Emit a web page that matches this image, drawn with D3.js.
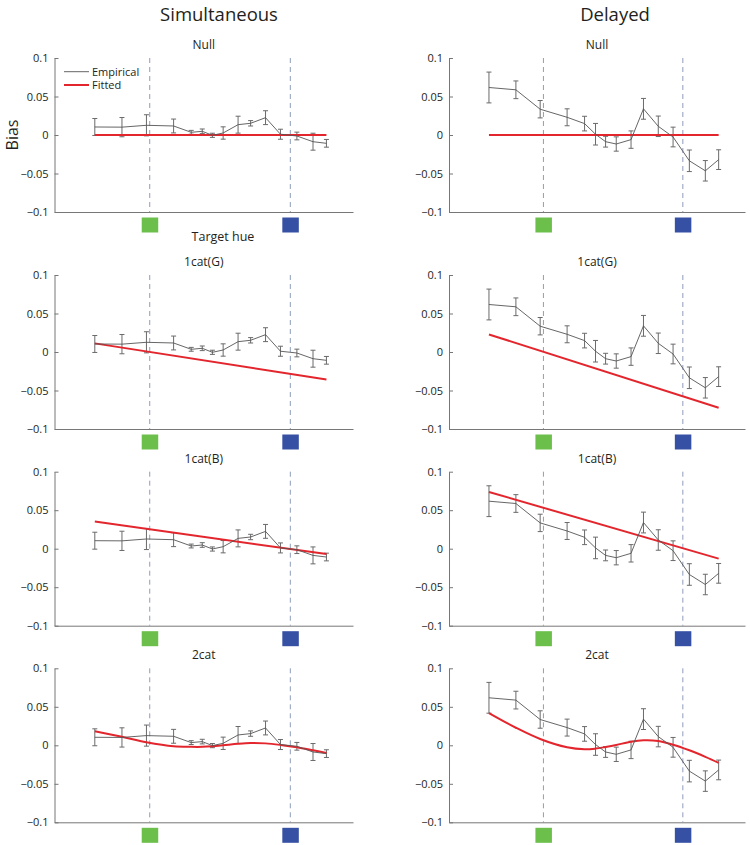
<!DOCTYPE html>
<html>
<head>
<meta charset="utf-8">
<script src="https://cdn.jsdelivr.net/npm/d3@7"></script>
<style>
  body { margin: 0; background: #fff; }
  text { font-family: "Open Sans", "Noto Sans", sans-serif; fill: #231f20; }
</style>
</head>
<body>
<script>
// dati
var hues = [13.5, 22.6, 30.8, 39.9, 45.8, 49.5, 52.9, 56.5, 61.5, 65.7, 70.7, 75.7, 81.2, 86.6, 91.1];
var catHues = [31.9, 79.0];            // confini: verde, blu
var catColors = ["#6cbf4a", "#3651a3"];

var simEmp = [0.0104, 0.0102, 0.0126, 0.0117, 0.0035, 0.0048, -0.0004, 0.0026, 0.0134, 0.0152, 0.0225, 0.0010, -0.0013, -0.0087, -0.0108];
var simErr = [0.011, 0.0125, 0.0137, 0.009, 0.0025, 0.003, 0.0027, 0.008, 0.011, 0.0035, 0.009, 0.0065, 0.005, 0.011, 0.005];
var delEmp = [0.0617, 0.0587, 0.0335, 0.0230, 0.0148, 0.0010, -0.0087, -0.0117, -0.0060, 0.0340, 0.0113, -0.0026, -0.0335, -0.0465, -0.0320];
var delErr = [0.020, 0.0115, 0.0113, 0.011, 0.0095, 0.014, 0.007, 0.0093, 0.0113, 0.0135, 0.0133, 0.0128, 0.014, 0.0133, 0.0128];

// curve fittate (linee: solo estremi)
var lineHues = [hues[0], hues[hues.length - 1]];
var simNull = [0, 0];
var simCatG = [0.0112, -0.0358];
var simCatB = [0.0352, -0.0070];
var sim2cat = [0.0183, 0.0110, 0.0040, -0.0013, -0.0020, -0.0020, -0.0013, 0.0000, 0.0020, 0.0030, 0.0025, 0.0005, -0.0025, -0.0065, -0.0100];
var delNull = [0, 0];
var delCatG = [0.0228, -0.0724];
var delCatB = [0.0737, -0.0129];
var del2cat = [0.0418, 0.0228, 0.0082, -0.0026, -0.0052, -0.0043, -0.0022, 0.0004, 0.0047, 0.0065, 0.0056, 0.0008, -0.0065, -0.0150, -0.0228];

var rowNames = ["Null", "1cat(G)", "1cat(B)", "2cat"];
var colNames = ["Simultaneous", "Delayed"];
var yTicks = [-0.1, -0.05, 0, 0.05, 0.1];

var W = 750, H = 845;
var cols = [
  { x0: 54.5, x1: 353, emp: simEmp, err: simErr, fits: [simNull, simCatG, simCatB, sim2cat] },
  { x0: 449, x1: 745, emp: delEmp, err: delErr, fits: [delNull, delCatG, delCatB, del2cat] }
];
var rowTops = [58, 275, 471.7, 668.3];
var ph = 154;

var svg = d3.select("body").append("svg")
  .attr("width", W)
  .attr("height", H);

// titoli colonne
svg.append("text").attr("x", 219).attr("y", 21).attr("text-anchor", "middle")
  .style("font-size", "18.5px").text(colNames[0]);
svg.append("text").attr("x", 615).attr("y", 21).attr("text-anchor", "middle")
  .style("font-size", "18.5px").text(colNames[1]);

var fmt = function(t) { return t === 0 ? "0" : (t < 0 ? "\u2212" : "") + Math.abs(t); };

cols.forEach(function(c, ci) {
  var x = d3.scaleLinear().domain([0, 100]).range([c.x0, c.x1]);

  rowTops.forEach(function(top, ri) {
    var y = d3.scaleLinear().domain([-0.1, 0.1]).range([top + ph, top]);
    var g = svg.append("g");

    // titolo pannello
    g.append("text")
      .attr("x", (c.x0 + c.x1) / 2)
      .attr("y", top - 9)
      .attr("text-anchor", "middle")
      .style("font-size", "12px")
      .text(rowNames[ri]);

    // linee tratteggiate delle categorie
    catHues.forEach(function(h) {
      g.append("line")
        .attr("x1", x(h)).attr("x2", x(h))
        .attr("y1", y(0.1)).attr("y2", y(-0.1))
        .attr("stroke", "#8f9cbb")
        .attr("stroke-width", 1)
        .attr("stroke-dasharray", "5,4");
    });

    // assi
    var ya = g.append("g")
      .attr("transform", "translate(" + c.x0 + ",0)")
      .call(d3.axisLeft(y).tickValues(yTicks).tickFormat(fmt)
        .tickSizeInner(-4).tickSizeOuter(0).tickPadding(6));
    ya.selectAll("text").style("font-size", "11px").attr("fill", "#231f20");
    ya.selectAll("line, path").attr("stroke", "#777");

    var xa = g.append("g")
      .attr("transform", "translate(0," + y(-0.1) + ")")
      .call(d3.axisBottom(x).tickValues([]).tickSizeOuter(0));
    xa.select("path").attr("stroke", "#777");

    // quadrati colorati
    catHues.forEach(function(h, i) {
      g.append("rect")
        .attr("x", x(h) - 8)
        .attr("y", y(-0.1) + 5.5)
        .attr("width", 16.5)
        .attr("height", 15)
        .attr("fill", catColors[i]);
    });

    // barre di errore
    var eb = g.selectAll(".eb").data(hues).enter().append("g").attr("class", "eb");
    eb.append("line")
      .attr("x1", function(d) { return x(d); })
      .attr("x2", function(d) { return x(d); })
      .attr("y1", function(d, i) { return y(c.emp[i] + c.err[i]); })
      .attr("y2", function(d, i) { return y(c.emp[i] - c.err[i]); });
    eb.append("line")
      .attr("x1", function(d) { return x(d) - 2.5; })
      .attr("x2", function(d) { return x(d) + 2.5; })
      .attr("y1", function(d, i) { return y(c.emp[i] + c.err[i]); })
      .attr("y2", function(d, i) { return y(c.emp[i] + c.err[i]); });
    eb.append("line")
      .attr("x1", function(d) { return x(d) - 2.5; })
      .attr("x2", function(d) { return x(d) + 2.5; })
      .attr("y1", function(d, i) { return y(c.emp[i] - c.err[i]); })
      .attr("y2", function(d, i) { return y(c.emp[i] - c.err[i]); });
    eb.selectAll("line").attr("stroke", "#6a6a6a").attr("stroke-width", 1);

    // curva fittata
    var fit = c.fits[ri];
    var fx = fit.length === 2 ? lineHues : hues;
    var fitLine = d3.line()
      .x(function(d, i) { return x(fx[i]); })
      .y(function(d) { return y(d); })
      .curve(d3.curveCatmullRom.alpha(0.5));
    g.append("path")
      .attr("d", fitLine(fit))
      .attr("fill", "none")
      .attr("stroke", "#e3262d")
      .attr("stroke-width", 2);

    // curva empirica
    var empLine = d3.line()
      .x(function(d, i) { return x(hues[i]); })
      .y(function(d) { return y(d); });
    g.append("path")
      .attr("d", empLine(c.emp))
      .attr("fill", "none")
      .attr("stroke", "#555")
      .attr("stroke-width", 0.9);

    // legenda e etichette solo nel primo pannello
    if (ci === 0 && ri === 0) {
      g.append("line").attr("x1", 64).attr("x2", 89).attr("y1", 71.7).attr("y2", 71.7)
        .attr("stroke", "#666").attr("stroke-width", 1);
      g.append("text").attr("x", 92).attr("y", 75.5).style("font-size", "11px").text("Empirical");
      g.append("line").attr("x1", 64).attr("x2", 89).attr("y1", 85).attr("y2", 85)
        .attr("stroke", "#e3262d").attr("stroke-width", 2);
      g.append("text").attr("x", 92).attr("y", 89).style("font-size", "11px").text("Fitted");

      g.append("text")
        .attr("transform", "translate(18," + y(0) + ") rotate(-90)")
        .attr("text-anchor", "middle")
        .style("font-size", "16px")
        .text("Bias");
      g.append("text")
        .attr("x", 223).attr("y", 241)
        .attr("text-anchor", "middle")
        .style("font-size", "12.5px")
        .text("Target hue");
    }
  });
});
</script>
</body>
</html>
